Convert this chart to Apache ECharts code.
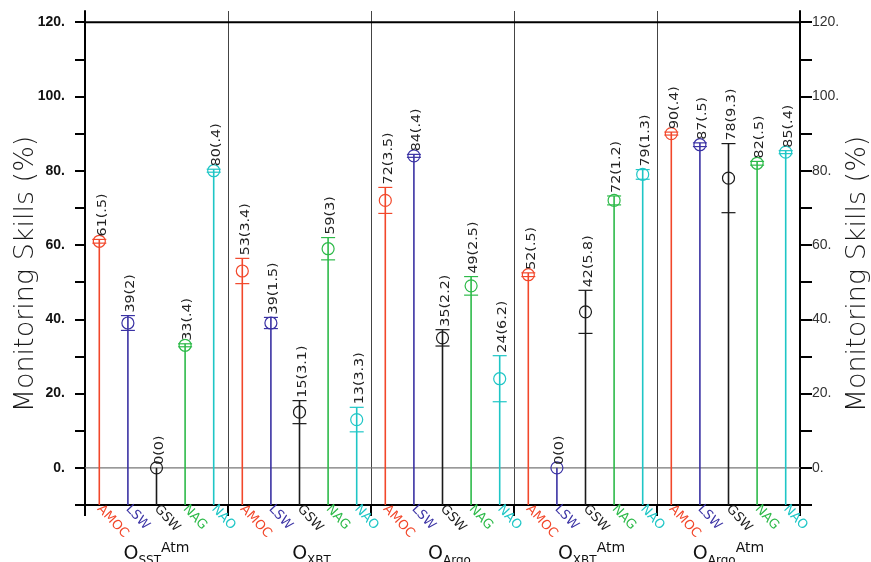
<!DOCTYPE html>
<html><head><meta charset="utf-8">
<script src="https://cdn.jsdelivr.net/npm/echarts@6/dist/echarts.min.js"></script>
<style>html,body{margin:0;padding:0;background:#fff}#c{width:871px;height:562px}</style>
</head><body><div id="c"></div>
<script>
// ---- data ----
const variables = ['AMOC', 'LSW', 'GSW', 'NAG', 'NAO'];
const groupSub = ['SST', 'XBT', 'Argo', 'XBT', 'Argo'];
const groupSup = ['Atm', '', '', 'Atm', 'Atm'];

const skillSSTAtm = [61, 39, 0, 33, 80];
const errSSTAtm   = [0.5, 2, 0, 0.4, 0.4];
const skillXBT    = [53, 39, 15, 59, 13];
const errXBT      = [3.4, 1.5, 3.1, 3, 3.3];
const skillArgo   = [72, 84, 35, 49, 24];
const errArgo     = [3.5, 0.4, 2.2, 2.5, 6.2];
const skillXBTAtm = [52, 0, 42, 72, 79];
const errXBTAtm   = [0.5, 0, 5.8, 1.2, 1.3];
const skillArgoAtm = [90, 87, 78, 82, 85];
const errArgoAtm   = [0.4, 0.5, 9.3, 0.5, 0.4];

const yMin = -10, yMax = 123, yStep = 10;
const yTickValues = [-10, 0, 10, 20, 30, 40, 50, 60, 70, 80, 90, 100, 110, 120];
const yLabelValues = [0, 20, 40, 60, 80, 100, 120];
const refLines = [120, 0];

// ---- styles ----
const varColors = ['#F2472A', '#3A32A4', '#1A1A1A', '#2DBA49', '#1EC6C6'];
const groupLabelIndent = [0, 24, 14, 12, 0];
const FONT = '"DejaVu Sans", sans-serif';

const skills = [skillSSTAtm, skillXBT, skillArgo, skillXBTAtm, skillArgoAtm];
const errs = [errSSTAtm, errXBT, errArgo, errXBTAtm, errArgoAtm];

const cats = [];
const points = [];
skills.forEach((arr, g) => {
  arr.forEach((v, i) => {
    cats.push(variables[i]);
    points.push([g * variables.length + i, v, errs[g][i], i]);
  });
});

function fmtErr(e) {
  return String(e).replace(/^0\./, '.');
}

const groupRich = {
  o: {fontFamily: FONT, fontSize: 19, color: '#111', lineHeight: 26, verticalAlign: 'middle'},
  sub: {fontFamily: FONT, fontSize: 12, color: '#111', lineHeight: 12, verticalAlign: 'bottom'},
  sup: {fontFamily: FONT, fontSize: 14, color: '#111', lineHeight: 14, verticalAlign: 'top'}
};
groupLabelIndent.forEach((w, i) => { groupRich['sp' + i] = {width: w, fontSize: 12}; });

const chart = echarts.init(document.getElementById('c'), null, {renderer: 'canvas'});

const yCommon = {
  type: 'value', min: yMin, max: yMax, interval: yStep,
  splitLine: {show: false},
  name: 'Monitoring Skills (%)', nameLocation: 'middle', nameRotate: 90, nameMoveOverlap: false,
  nameTextStyle: {fontFamily: FONT, fontSize: 27, fontWeight: 200, color: '#1a1a1a', padding: [0, 32, 0, 0]}
};

chart.setOption({
  animation: false,
  backgroundColor: '#fff',
  grid: [
    {left: 85, right: 71, top: 11, bottom: 57, outerBoundsMode: 'none', containLabel: false},
    {left: 85, right: 71, top: 504, height: 1, outerBoundsMode: 'none', containLabel: false}
  ],
  xAxis: [
    {
      type: 'category', gridIndex: 0, data: cats, boundaryGap: true, position: 'bottom',
      axisLine: {onZero: false, lineStyle: {color: '#000', width: 2}},
      axisTick: {show: true, length: 11, interval: (i) => i % 5 === 0, lineStyle: {color: '#000', width: 2}},
      splitLine: {show: true, interval: (i) => i % 5 === 0 && i > 0, lineStyle: {color: '#444', width: 1}},
      axisLabel: {
        interval: 0, rotate: -47, margin: 2, fontSize: 13, fontFamily: FONT,
        color: (v, i) => varColors[i % variables.length]
      }
    },
    {
      type: 'category', gridIndex: 1, data: groupSub, boundaryGap: true, position: 'bottom',
      axisLine: {show: false, onZero: false}, axisTick: {show: false}, splitLine: {show: false},
      axisLabel: {
        interval: 0, margin: 36,
        formatter: (v, i) => (groupLabelIndent[i] ? '{sp' + i + '|}' : '') + '{o|O}{sub|' + groupSub[i] + '}' +
          (groupSup[i] ? '{sup|' + groupSup[i] + '}' : ''),
        rich: groupRich
      }
    }
  ],
  yAxis: [
    Object.assign({}, yCommon, {
      gridIndex: 0, position: 'left', nameGap: 46,
      axisLine: {show: true, onZero: false, lineStyle: {color: '#000', width: 2}},
      axisTick: {show: true, length: 10, customValues: yTickValues, lineStyle: {color: '#000', width: 2}},
      axisLabel: {
        margin: 20, fontSize: 14, fontWeight: 'bold', color: '#111', fontFamily: '"Liberation Sans", Arial',
        customValues: yLabelValues,
        formatter: (v) => v + '.'
      }
    }),
    Object.assign({}, yCommon, {
      gridIndex: 0, position: 'right', nameGap: 44,
      axisLine: {show: true, onZero: false, lineStyle: {color: '#000', width: 2}},
      axisTick: {show: true, length: 12, customValues: yTickValues, lineStyle: {color: '#000', width: 2}},
      axisLabel: {
        margin: 12, fontSize: 14, color: '#333', fontFamily: '"Liberation Sans", Arial',
        customValues: yLabelValues,
        formatter: (v) => v + '.'
      }
    }),
    {type: 'value', gridIndex: 1, show: false}
  ],
  series: [
    {
      type: 'custom', xAxisIndex: 0, yAxisIndex: 0, silent: true, z: 1,
      data: refLines.map((v) => [0, v]),
      renderItem: (params, api) => {
        const cs = params.coordSys;
        const y = api.coord([0, api.value(1)])[1];
        const top = api.value(1) !== 0;
        return {
          type: 'line',
          shape: {x1: cs.x, y1: y, x2: cs.x + cs.width, y2: y},
          style: {stroke: top ? '#000' : '#777', lineWidth: top ? 2 : 1.2}
        };
      }
    },
    {
      type: 'custom', xAxisIndex: 0, yAxisIndex: 0, silent: true, z: 3,
      data: points,
      renderItem: (params, api) => {
        const x = api.value(0), val = api.value(1), err = api.value(2), vi = api.value(3);
        const color = varColors[vi];
        const pBase = api.coord([x, yMin]);
        const pVal = api.coord([x, val]);
        const pHi = api.coord([x, val + err]);
        const pLo = api.coord([x, val - err]);
        const cx = pVal[0];
        const children = [
          {type: 'line', shape: {x1: cx, y1: pBase[1], x2: cx, y2: pHi[1]}, style: {stroke: color, lineWidth: 1.6}},
          {type: 'circle', shape: {cx: cx, cy: pVal[1], r: 6}, style: {fill: 'none', stroke: color, lineWidth: 1.2}}
        ];
        if (err > 0) {
          children.push({type: 'line', shape: {x1: cx - 7, y1: pHi[1], x2: cx + 7, y2: pHi[1]}, style: {stroke: color, lineWidth: 1.2}});
          children.push({type: 'line', shape: {x1: cx - 7, y1: pLo[1], x2: cx + 7, y2: pLo[1]}, style: {stroke: color, lineWidth: 1.2}});
        }
        children.push({
          type: 'text', x: cx + 3, y: pHi[1] - 3, rotation: Math.PI / 2, scaleX: 1.1,
          style: {
            text: val + '(' + fmtErr(err) + ')', fill: '#222', font: '13px ' + FONT,
            align: 'left', verticalAlign: 'middle'
          }
        });
        return {type: 'group', children: children};
      }
    }
  ]
});
</script>
</body></html>
